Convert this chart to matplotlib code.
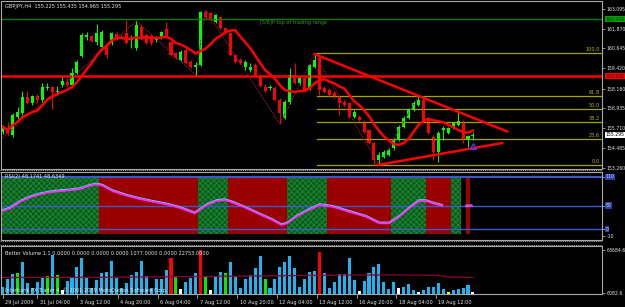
import matplotlib
matplotlib.use("Agg")
import matplotlib.pyplot as plt
import matplotlib.transforms as mtransforms
from matplotlib import font_manager
from matplotlib.lines import Line2D
import pandas as pd

W, H = 625, 307

# GBPJPY H4 candles
opens = [155.47, 155.71, 155.28, 156.40, 156.65, 157.64, 157.27, 157.70, 157.45, 158.20,
         158.26, 157.95, 158.38, 158.57, 158.38, 159.13, 160.18, 161.36, 161.42, 161.05,
         160.74, 160.74, 160.99, 161.55, 161.42, 161.61, 161.17, 160.68, 161.98, 161.48,
         161.42, 161.17, 161.36, 161.86, 161.05, 160.37, 159.93, 160.55, 159.81, 159.50,
         159.62, 162.91, 162.85, 162.29, 162.60, 161.92, 161.61, 160.24, 159.93, 159.50,
         159.31, 159.62, 159.00, 158.26, 158.20, 158.20, 157.45, 156.34, 157.33, 159.00,
         158.51, 158.82, 158.20, 159.50, 160.06, 158.20, 158.07, 157.89, 157.64, 157.33,
         157.27, 156.40, 156.40, 156.09, 155.59, 154.78, 153.73, 153.92, 154.04, 154.47,
         154.97, 155.78, 156.34, 156.83, 157.14, 157.45, 156.34, 155.16, 154.23, 155.59,
         155.40, 155.71, 155.90, 156.09, 154.97, 155.225]
highs = [155.90, 156.09, 156.65, 157.02, 158.01, 158.01, 157.76, 157.82, 158.51, 158.51,
         158.32, 158.32, 158.88, 158.82, 159.44, 159.93, 161.61, 161.67, 161.48, 162.17,
         161.79, 160.86, 161.67, 161.67, 161.55, 162.41, 161.48, 162.35, 162.17, 161.61,
         161.55, 161.42, 161.73, 162.29, 161.11, 160.43, 160.55, 160.68, 159.93, 159.81,
         162.97, 163.03, 162.91, 162.79, 162.66, 161.98, 161.67, 160.30, 160.06, 159.93,
         159.75, 159.75, 159.06, 158.44, 158.38, 158.32, 157.58, 157.45, 159.44, 159.75,
         158.88, 158.94, 159.68, 160.30, 160.18, 158.32, 158.20, 158.01, 157.76, 157.45,
         157.33, 156.83, 156.52, 156.21, 155.65, 154.85, 154.23, 154.35, 154.47, 155.09,
         155.90, 156.46, 156.96, 157.39, 157.70, 157.64, 156.40, 155.28, 155.53, 155.84,
         155.78, 156.09, 156.83, 156.21, 155.28, 155.435]
lows = [155.34, 155.28, 155.16, 156.27, 156.52, 157.20, 157.14, 157.27, 157.33, 158.07,
        156.89, 157.76, 158.26, 158.26, 158.32, 159.06, 160.12, 161.17, 161.05, 160.86,
        160.68, 160.06, 160.86, 161.17, 161.30, 160.93, 160.68, 160.55, 161.17, 160.93,
        160.86, 161.05, 161.24, 161.30, 160.18, 159.99, 159.87, 159.68, 159.44, 159.00,
        159.56, 162.48, 162.35, 162.23, 161.86, 161.55, 160.18, 159.75, 159.68, 159.31,
        159.19, 158.94, 158.26, 157.95, 158.07, 157.39, 155.96, 156.27, 157.20, 158.44,
        158.38, 158.01, 158.07, 159.44, 157.76, 157.89, 157.70, 157.58, 156.52, 157.08,
        156.34, 156.34, 156.15, 155.40, 154.72, 153.42, 153.42, 153.85, 153.98, 154.35,
        154.91, 155.71, 156.27, 156.77, 157.08, 156.15, 155.34, 153.73, 153.61, 154.97,
        155.34, 155.65, 155.84, 154.78, 154.54, 154.965]
closes = [155.78, 155.34, 156.52, 156.71, 157.64, 157.27, 157.70, 157.45, 158.26, 158.26,
          157.95, 158.01, 158.63, 158.38, 159.13, 159.81, 161.48, 161.48, 161.11, 161.61,
          161.67, 160.24, 161.61, 161.30, 161.40, 160.99, 161.30, 162.10, 161.24, 160.99,
          160.99, 161.36, 161.67, 161.36, 160.24, 160.06, 160.43, 159.75, 159.50, 159.62,
          162.91, 162.60, 162.41, 162.72, 161.92, 161.61, 160.24, 159.81, 159.75, 159.81,
          159.50, 159.00, 158.32, 158.01, 158.26, 157.45, 156.65, 157.33, 159.00, 158.51,
          158.82, 158.07, 159.62, 159.93, 158.07, 157.95, 157.76, 157.64, 157.27, 157.14,
          156.40, 156.71, 156.21, 155.47, 154.78, 153.73, 154.04, 154.23, 154.35, 154.97,
          155.78, 156.34, 156.83, 157.27, 157.45, 156.21, 155.40, 154.23, 155.40, 155.71,
          155.71, 156.02, 156.15, 154.97, 155.22, 155.295]

price_ticks = [163.095, 161.870, 160.645, 159.420, 158.160, 156.935, 155.710, 154.485, 153.260]
green_level = 162.47
red_level = 158.93
fib_high, fib_low = 160.37, 153.42
fib_levels = [100.0, 61.8, 50.0, 38.2, 23.6, 0.0]
fib_start = 63.5

zigzag_bars = [-0.5, 27, 39, 41, 56, 63, 76, 84]
zigzag_prices = [154.97, 162.35, 159.00, 163.03, 155.96, 160.30, 153.42, 157.70]
upper_tl_bars = [63, 101.9]
upper_tl_prices = [160.30, 155.50]
lower_tl_bars = [75.8, 100.9]
lower_tl_prices = [153.42, 154.78]

# RSI panel
rsi_bars = [-0.5, 1.5, 3.5, 5.5, 7.5, 9.5, 11.6, 13.6, 15.6, 17.6, 19.0, 20.2, 22.2,
            25.1, 27.7, 30.3, 33.1, 35.7, 38.8, 41.2, 43.2, 44.8, 46.4, 49.3, 51.9,
            54.5, 56.3, 57.5, 59.3, 61.4, 64.0, 66.6, 70.0, 73.4, 76.1, 78.1, 80.1,
            82.1, 84.1, 85.5, 87.6, 88.8]
rsi_vals = [36.9, 44.1, 58.0, 67.3, 73.6, 77.8, 80.5, 82.0, 84.7, 91.7, 94.6, 91.7, 80.5,
            70.6, 63.7, 58.0, 52.5, 45.4, 33.6, 51.1, 59.5, 61.6, 56.7, 44.1, 31.5,
            19.5, 9.0, 12.5, 26.4, 38.4, 51.1, 47.5, 36.9, 26.4, 12.5, 12.5, 26.4,
            44.1, 59.5, 59.5, 52.5, 49.6]
rsi_tail_bars = [93.6, 94.8]
rsi_tail_vals = [48.2, 48.6]
zone_from = [-0.5, 19.5, 39.5, 45.5, 57.5, 65.5, 78.5, 85.5, 90.5, 93.5]
zone_to = [19.5, 39.5, 45.5, 57.5, 65.5, 78.5, 85.5, 90.5, 92.5, 94.5]
zone_up = [1, 0, 1, 0, 1, 0, 1, 0, 1, 0]
rsi_levels = [110, 50, 0]

# Better Volume
volumes = [14522, 24837, 31535, 32875, 47209, 19077, 12781, 21220, 26579, 28856,
           56988, 30196, 10102, 22158, 27918, 40243, 52299, 26177, 12781, 23498,
           32473, 34616, 48950, 26579, 12781, 19077, 30196, 34616, 48950, 28186,
           12781, 24837, 24837, 36224, 52567, 29258, 11040, 21220, 26579, 32473,
           63684.6, 27918, 10102, 27115, 34616, 32473, 47209, 27918, 13183, 24837,
           30196, 39171, 55648, 24837, 12379, 24837, 40511, 48012, 55648, 39171,
           14522, 24837, 34616, 35554, 60337, 32473, 13183, 21220, 31134, 31134,
           52567, 22828, 8762, 22158, 32473, 41314, 44931, 21220, 11843, 20149,
           12379, 14522, 18139, 10102, 7824, 10102, 13719, 13719, 19881, 11441,
           7423, 10102, 11441, 13183, 16800, 6753]
vol_colors = (['b', 'b', 'b', 'g', 'b', 'b', 'b', 'b', 'b', 'g',
               'b', 'g', 'w', 'b', 'b', 'b', 'b', 'b', 'b', 'b',
               'b', 'b', 'b', 'b', 'b', 'b', 'b', 'b', 'b', 'b',
               'b', 'b', 'b', 'b', 'r', 'g', 'w', 'b', 'b', 'b',
               'r', 'g', 'w', 'b', 'b', 'g', 'b', 'b', 'b', 'b',
               'b', 'b', 'b', 'g', 'b', 'b', 'b', 'b', 'b', 'b',
               'b', 'b', 'b', 'b', 'r', 'b', 'b', 'b', 'b', 'b',
               'b', 'b', 'w', 'b', 'b', 'b', 'b', 'b', 'b', 'b',
               'w', 'b', 'b', 'b', 'w', 'b', 'b', 'b', 'b', 'b',
               'y', 'b', 'b', 'b', 'b', 'w'])
vol_ma_bars = [-0.5, 20, 40, 50, 60, 70, 80, 88, 90, 95]
vol_ma_vals = [26847, 27115, 28186, 28856, 29526, 30196, 30196, 29794, 27516, 26847]

x_label_bars = [0, 7.0, 15.1, 23.2, 31.3, 39.3, 47.4, 55.4, 63.5, 71.5, 79.5, 87.5]
x_labels = ["29 Jul 2009", "31 Jul 04:00", "3 Aug 12:00", "4 Aug 20:00", "6 Aug 04:00",
            "7 Aug 12:00", "10 Aug 20:00", "12 Aug 04:00", "13 Aug 12:00", "16 Aug 20:00",
            "18 Aug 04:00", "19 Aug 12:00"]

# small narrow terminal-like font
FS = 3.6
for fam, size in [('Liberation Sans Narrow', 4.4), ('DejaVu Sans Condensed', 4.0)]:
    try:
        font_manager.findfont(fam, fallback_to_default=False)
        plt.rcParams['font.family'] = [fam, 'DejaVu Sans']
        FS = size
        break
    except ValueError:
        pass
FSR = FS * 0.92
plt.rcParams['hatch.linewidth'] = 0.6

BG = 'black'
GRID = '#A8A8A8'
TXT = '#E8E8E8'
XLIM = (-0.34, 121.07)
palette = {'b': '#1EB4F0', 'g': '#00EE00', 'r': '#FF0000', 'w': '#FFFFFF', 'y': '#FFFF00'}

fig = plt.figure(figsize=(W / 100, H / 100), dpi=100, facecolor=BG)


def axes_px(x0, y0, x1, y1):
    a = fig.add_axes([x0 / W, 1 - y1 / H, (x1 - x0) / W, (y1 - y0) / H], facecolor=BG)
    a.set_xlim(*XLIM)
    for s in a.spines.values():
        s.set_color(GRID)
        s.set_linewidth(0.8)
    a.tick_params(axis='y', left=False, labelleft=False, right=True, labelright=True,
                  length=2, width=0.6, color=GRID, labelcolor=TXT, labelsize=FSR, pad=1.2)
    a.tick_params(axis='x', bottom=False, labelbottom=False)
    return a


# ---- main price panel
ax = axes_px(1, 1, 602, 169)
ax.set_ylim(153.171, 163.591)
ax.set_yticks(price_ticks)
ax.set_yticklabels(["%.3f" % p for p in price_ticks])

ax.axhline(green_level, color='#008000', lw=1)
ax.axhline(red_level, color='#FF0000', lw=1.8)
ax.text(52, 162.23, "[5/8]P top of trading range", color='#2E9A2E', fontsize=FS,
        va='center', ha='left')

fib_range = fib_high - fib_low
for lv in fib_levels:
    p = fib_low + fib_range * lv / 100
    ax.plot([fib_start, XLIM[1]], [p, p], color='#A4A400', lw=0.9)
    ax.text(XLIM[1] - 0.4, p + 0.05, "%.1f" % lv, color='#B8B800', fontsize=FS,
            ha='right', va='bottom')

ax.plot(zigzag_bars, zigzag_prices, color='#8B1040', lw=0.7, ls=(0, (2, 1)))

for i in range(len(closes)):
    o, h, l, c = opens[i], highs[i], lows[i], closes[i]
    col = '#00FF00' if c >= o else '#FF0000'
    ax.vlines(i, l, h, color=col, lw=0.7)
    ax.bar(i, max(abs(c - o), 0.04), bottom=min(o, c), width=0.62, color=col, lw=0)

ma = pd.Series(closes).rolling(8, min_periods=1).mean()
ax.plot(range(len(closes)), ma, color='#FF0000', lw=1.8)

ax.plot(upper_tl_bars, upper_tl_prices, color='#FF0000', lw=1.8)
ax.plot(lower_tl_bars, lower_tl_prices, color='#FF0000', lw=1.8)
ax.plot(95, 154.62, marker='^', ms=4, mfc='none', mec='#3050FF', mew=0.9)

ax.text(0.006, 0.985, "GBPJPY,H4  155.225 155.435 154.965 155.295", transform=ax.transAxes,
        color=TXT, fontsize=FS, va='top', ha='left')

ytr = ax.get_yaxis_transform()
for p, txt, fc, tc in [(green_level, "162.470", '#00A000', '#003000'),
                       (red_level, "158.930", '#FF0000', '#400000'),
                       (closes[-1], "155.295", '#FFFFFF', '#000000')]:
    ax.text(1.006, p, txt, transform=ytr, fontsize=FSR, color=tc, va='center', ha='left',
            bbox=dict(boxstyle='square,pad=0.12', fc=fc, ec='none'))

# ---- RSI panel
ar = axes_px(1, 172, 602, 240)
ar.set_ylim(-22.6, 120.5)
for a0, a1, up in zip(zone_from, zone_to, zone_up):
    if up:
        ar.fill_between([a0, a1], -10, 110, facecolor='#0A5A1C', edgecolor='#1C8A34',
                        hatch='xxxxxx', lw=0)
    else:
        ar.fill_between([a0, a1], -10, 110, facecolor='#9A0000', lw=0)
for lv in rsi_levels:
    ar.axhline(lv, color='#3A5BD0', lw=1.4 if lv == 110 else 1)
shift = mtransforms.offset_copy(ar.transData, fig=fig, x=0, y=1.2, units='dots')
ar.plot(rsi_bars, rsi_vals, color='#60D0FF', lw=0.8, transform=shift)
ar.plot(rsi_bars, rsi_vals, color='#FF30FF', lw=1.3)
ar.plot(rsi_tail_bars, rsi_tail_vals, color='#60D0FF', lw=0.8, transform=shift)
ar.plot(rsi_tail_bars, rsi_tail_vals, color='#FF30FF', lw=1.3)
ar.set_yticks([110, 50, 0, -15])
ar.set_yticklabels(["", "", "", "-10"])
ytr = ar.get_yaxis_transform()
for lv in rsi_levels:
    ar.text(1.006, lv, str(lv), transform=ytr, fontsize=FSR, color='#D0D8FF', va='center',
            ha='left', bbox=dict(boxstyle='square,pad=0.12', fc='#2840A8', ec='none'))
ar.text(0.006, 0.93, "RSI(2) 48.1741 48.6349", transform=ar.transAxes, color=TXT,
        fontsize=FS, va='center', ha='left')

# ---- volume panel
av = axes_px(1, 246, 602, 294)
vmax, vmin = 63684.6, 6082.6
per_px = (vmax - vmin) / 43
av.set_ylim(vmin - per_px * 1, vmax + per_px * 4)
av.bar(range(len(volumes)), volumes, width=0.62, color=[palette[c] for c in vol_colors], lw=0)
av.plot(vol_ma_bars, vol_ma_vals, color='#8B0030', lw=0.9)
av.set_yticks([vmin, vmax])
av.set_yticklabels(["%.1f" % vmin, "%.1f" % vmax])
av.text(0.006, 0.85, "Better Volume 1.1 0.0000 0.0000 0.0000 0.0000 1077.0000 0.0000 22753.0000",
        transform=av.transAxes, color=TXT, fontsize=FS, va='center', ha='left')
av.text(0.006, 0.08, "Interbank FX Trader 4, \u00a9 2001-2009 MetaQuotes Software Corp.",
        transform=av.transAxes, color=TXT, fontsize=FS, va='center', ha='left')

xtr = av.get_xaxis_transform()
for b, lab in zip(x_label_bars, x_labels):
    av.plot([b, b], [-0.02, -0.09], transform=xtr, color=GRID, lw=0.6, clip_on=False)
    av.text(b + 0.5, -0.13, lab, transform=xtr, color=TXT, fontsize=FS, ha='left', va='top')

# panel separators
for y in [169.5, 171.5, 240.5, 244.5]:
    fig.add_artist(Line2D([0, 602 / W], [1 - y / H, 1 - y / H], color=GRID, lw=0.8,
                          ls=(0, (1, 1))))

fig.savefig("out.png", dpi=100, facecolor=BG)
